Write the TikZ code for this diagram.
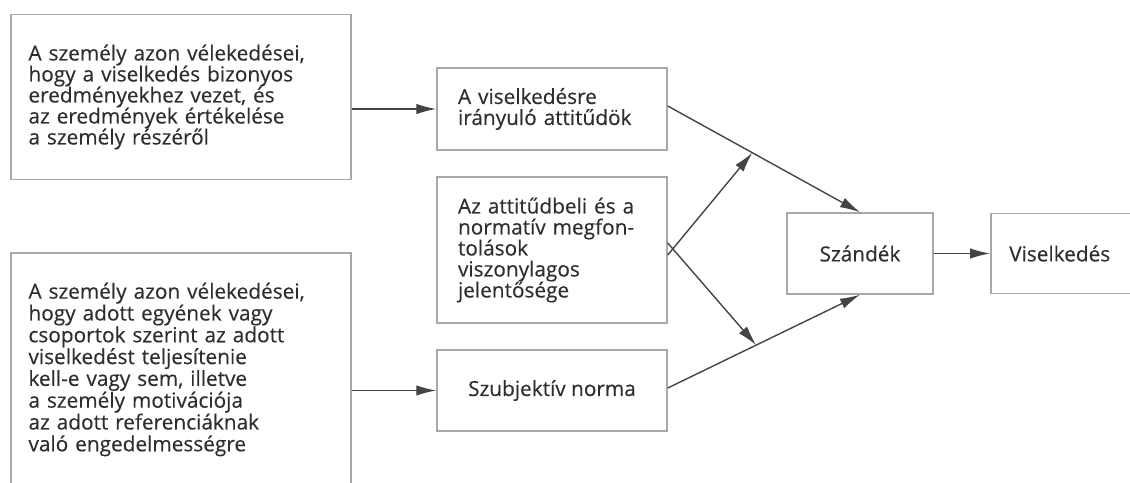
\documentclass[tikz,border=0pt]{standalone}
\usepackage{fontspec}
\newfontfamily\diafont{Open Sans}[FakeBold=0.3]
\usetikzlibrary{arrows.meta}
\definecolor{txt}{HTML}{2E2E2E}
\definecolor{frame}{HTML}{A8A8A8}
\definecolor{wire}{HTML}{444444}
\tikzset{
  box/.style={draw=frame, line width=1.5pt, text=txt, font=\diafont\fontsize{20.8}{21}\selectfont, align=left, inner sep=0pt},
  conn/.style={draw=wire, line width=1.4pt, -{Latex[length=20pt,width=10.5pt]}},
}
\begin{document}
\begin{tikzpicture}[x=1pt,y=-1pt]
\useasboundingbox (0,0) rectangle (1130,482);
\clip (0,0) rectangle (1130,482);
\node[box, minimum width=340, minimum height=165, text width=305] (b1) at (181,97)
  {A személy azon vélekedései,\\hogy a viselkedés bizonyos\\eredményekhez vezet, és\\az eredmények értékelése\\a személy részéről};
\node[box, minimum width=340, minimum height=233, text width=305, font=\diafont\fontsize{20.8}{21.8}\selectfont] (b2) at (181,369.5)
  {A személy azon vélekedései,\\hogy adott egyének vagy\\csoportok szerint az adott\\viselkedést teljesítenie\\kell-e vagy sem, illetve\\a személy motivációja\\az adott referenciáknak\\való engedelmességre};
\node[box, minimum width=230, minimum height=82, text width=188] (a) at (552,109)
  {A viselkedésre\\irányuló attitűdök};
\node[box, minimum width=230, minimum height=146, text width=188] (b) at (552,250)
  {Az attitűdbeli és a\\normatív megfon-\\tolások\\viszonylagos\\jelentősége};
\node[box, minimum width=230, minimum height=81, align=center] (c) at (552,390.5)
  {Szubjektív norma};
\node[box, minimum width=146, minimum height=81, align=center] (s) at (860,253.5)
  {Szándék};
\node[box, minimum width=150, minimum height=80, anchor=west] (v) at (990,253.5)
  {\hspace*{18pt}Viselkedés\hspace*{30pt}};
\coordinate (aout) at ([yshift=3]a.east);
\coordinate (cout) at ([yshift=2.5]c.east);
\path (aout) -- (s.north) coordinate[pos=0.44] (p1);
\path (cout) -- (s.south) coordinate[pos=0.46] (p2);
\draw[conn] (b1.east |- a.west) -- (a.west);
\draw[conn] (b2.east |- c.west) -- (c.west);
\draw[conn] (aout) -- (s.north);
\draw[conn] (cout) -- (s.south);
\draw[conn] ([yshift=-5]b.east) -- (p1);
\draw[conn] ([yshift=7]b.east) -- (p2);
\draw[conn] (s.east) -- (v.west);
\end{tikzpicture}
\end{document}
